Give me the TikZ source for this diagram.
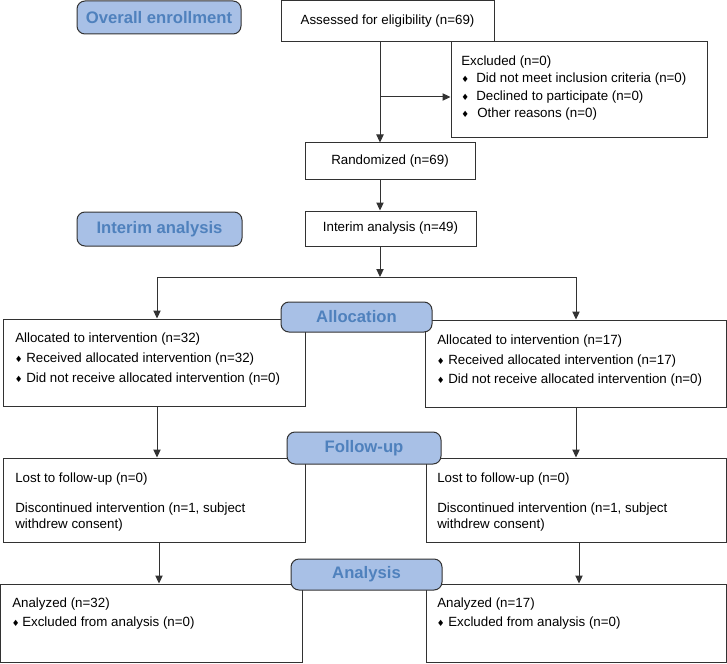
\documentclass[tikz,border=0pt]{standalone}
\usepackage{fontspec}
\setmainfont{Liberation Sans}
\newfontfamily\dejavu{DejaVu Sans}
\usetikzlibrary{arrows.meta,fit}
\definecolor{stagefill}{RGB}{168,192,230}
\definecolor{stagetext}{RGB}{79,129,189}
\definecolor{linec}{RGB}{50,50,50}
\newcommand{\dmd}{{\dejavu\fontsize{6.5}{8}\selectfont ♦}}
\tikzset{
  box/.style={draw=linec, line width=0.75pt, fill=white, inner sep=0pt},
  stage/.style={draw=linec, line width=0.75pt, fill=stagefill, rounded corners=6pt, inner sep=0pt},
  stagetxt/.style={inner sep=0pt, text=stagetext, font=\fontsize{12.5}{15}\selectfont\bfseries},
  txt/.style={inner sep=0pt, anchor=base west, font=\fontsize{10}{12}\selectfont},
  ctxt/.style={inner sep=0pt, font=\fontsize{10}{12}\selectfont},
  dm/.style={inner sep=0pt, anchor=base west},
  conn/.style={draw=linec, line width=0.75pt},
  arr/.style={conn, -{Triangle[length=6pt,width=5.5pt]}}
}
\begin{document}
\begin{tikzpicture}[x=0.75pt,y=-0.75pt]
\useasboundingbox (0,0) rectangle (727,663);
% boxes
\node[box, fit={(281,0.5)(494,42)}] (assess) {};
\node[ctxt] (assessT) at (assess.center) {Assessed for eligibility (n=69)};
\node[box, fit={(451,42)(707,138)}] (excl) {};
\node[box, fit={(305,143)(475,179)}] (rand) {};
\node[ctxt] (randT) at (rand.center) {Randomized (n=69)};
\node[box, fit={(305,211)(476,246)}] (interim) {};
\node[ctxt] (interimT) at (interim.center) {Interim analysis (n=49)};
\node[box, fit={(3,319)(305,406)}] (allocL) {};
\node[box, fit={(425,320)(726,407)}] (allocR) {};
\node[box, fit={(3,458)(305,542)}] (fuL) {};
\node[box, fit={(426,458)(726,542)}] (fuR) {};
\node[box, fit={(0.5,584)(302,662.5)}] (anL) {};
\node[box, fit={(426,584)(726,662.5)}] (anR) {};

% excluded text
\node[txt] (ex1) at (461,65.5) {Excluded (n=0)};
\node[dm] (exd2) at (461,82.5) {\dmd};
\node[txt] (ex2) at (476,82.5) {Did not meet inclusion criteria (n=0)};
\node[dm] (exd3) at (461,100.5) {\dmd};
\node[txt] (ex3) at (476,100.5) {Declined to participate (n=0)};
\node[dm] (exd4) at (461,117.5) {\dmd};
\node[txt] (ex4) at (477,117.5) {Other reasons (n=0)};

% allocation texts
\node[txt] (al1) at (15,342.5) {Allocated to intervention (n=32)};
\node[dm] (ald2) at (14.5,362.5) {\dmd};
\node[txt] (al2) at (26,362.5) {Received allocated intervention (n=32)};
\node[dm] (ald3) at (14.5,382) {\dmd};
\node[txt] (al3) at (26,382) {Did not receive allocated intervention (n=0)};
\node[txt] (ar1) at (437,344) {Allocated to intervention (n=17)};
\node[dm] (ard2) at (436.5,364) {\dmd};
\node[txt] (ar2) at (448,364) {Received allocated intervention (n=17)};
\node[dm] (ard3) at (436.5,383.5) {\dmd};
\node[txt] (ar3) at (448,383.5) {Did not receive allocated intervention (n=0)};

% follow-up texts
\node[txt] (fl1) at (15,482.5) {Lost to follow-up (n=0)};
\node[txt] (fl2) at (15,512.5) {Discontinued intervention (n=1, subject};
\node[txt] (fl3) at (15,528.5) {withdrew consent)};
\node[txt] (fr1) at (437,482.5) {Lost to follow-up (n=0)};
\node[txt] (fr2) at (437,512.5) {Discontinued intervention (n=1, subject};
\node[txt] (fr3) at (437,528.5) {withdrew consent)};

% analysis texts
\node[txt] (nl1) at (12,607.5) {Analyzed (n=32)};
\node[dm] (nld2) at (11.5,626.5) {\dmd};
\node[txt] (nl2) at (22,626.5) {Excluded from analysis (n=0)};
\node[txt] (nr1) at (437,607.5) {Analyzed (n=17)};
\node[dm] (nrd2) at (436.5,626.5) {\dmd};
\node[txt] (nr2) at (448,626.5) {Excluded from analysis (n=0)};

% stage labels
\node[stage, fit={(77,1)(241,34)}] (s1) {};
\node[stagetxt] (s1t) at (s1.center) {Overall enrollment};
\node[stage, fit={(77,212)(242,246)}] (s2) {};
\node[stagetxt] (s2t) at (s2.center) {Interim analysis};
\node[stage, fit={(281,302)(432,332)}] (s3) {};
\node[stagetxt] (s3t) at (s3.center) {Allocation};
\node[stage, fit={(287,432)(441,464)}] (s4) {};
\node[stagetxt] (s4t) at (s4.center) {Follow-up};
\node[stage, fit={(291,559)(442,590)}] (s5) {};
\node[stagetxt] (s5t) at (s5.center) {Analysis};

% connectors
\coordinate (ax) at (380,97);
\coordinate (split) at (380,277);
\coordinate (jl) at (157,277);
\coordinate (jr) at (576,277);
\draw[arr] (assess.south -| ax) -- (rand.north -| ax);
\draw[arr] (ax) -- (excl.west |- ax);
\draw[arr] (rand.south -| ax) -- (interim.north -| ax);
\draw[arr] (interim.south -| split) -- (split);
\draw[conn] (jl) -- (jr);
\draw[arr] (jl) -- (jl |- allocL.north);
\draw[arr] (jr) -- (jr |- allocR.north);
\coordinate (fl) at (157,0);
\coordinate (fr) at (576,0);
\draw[arr] (allocL.south -| fl) -- (fuL.north -| fl);
\draw[arr] (allocR.south -| fr) -- (fuR.north -| fr);
\coordinate (gl) at (159,0);
\coordinate (gr) at (579,0);
\draw[arr] (fuL.south -| gl) -- (anL.north -| gl);
\draw[arr] (fuR.south -| gr) -- (anR.north -| gr);
\end{tikzpicture}
\end{document}
